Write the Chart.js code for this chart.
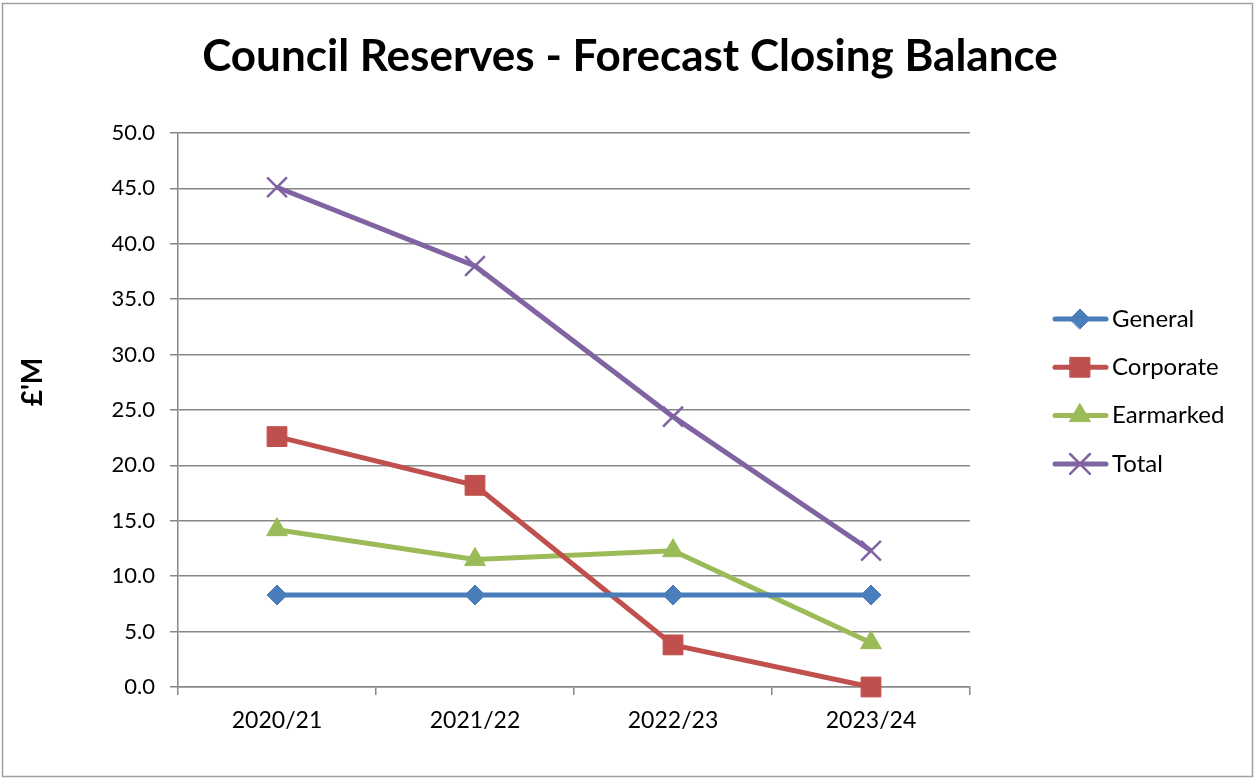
<!DOCTYPE html>
<html>
<head>
<meta charset="utf-8">
<script src="https://cdn.jsdelivr.net/npm/chart.js@4"></script>
<style>
  html, body { margin: 0; padding: 0; background: #fff; }
  #wrap { width: 1256px; height: 779px; }
</style>
</head>
<body>
<div id="wrap"><canvas id="myChart" width="1256" height="779"></canvas></div>
<script>
// chart data
const years = ['2020/21', '2021/22', '2022/23', '2023/24'];
const general = [8.3, 8.3, 8.3, 8.3];
const corporate = [22.6, 18.2, 3.8, 0.0];
const earmarked = [14.2, 11.5, 12.3, 4.0];
const total = [45.1, 38.0, 24.4, 12.3];
const seriesNames = ['General', 'Corporate', 'Earmarked', 'Total'];
const chartTitle = 'Council Reserves - Forecast Closing Balance';
const yTitle = "£'M";

const FONT = 'Lato, "Open Sans", sans-serif';
const GRID = '#878787';

// border round the whole picture, title, y axis title, legend with line + marker
const extras = {
    id: 'extras',
    beforeDraw(chart) {
        const c = chart.ctx;
        c.save();
        c.fillStyle = '#fff';
        c.fillRect(0, 0, chart.width, chart.height);
        c.strokeStyle = '#a0a0a0';
        c.lineWidth = 1.5;
        c.strokeRect(2.5, 3.5, 1250, 773);
        c.restore();
    },
    afterDraw(chart) {
        const c = chart.ctx;
        c.save();
        c.fillStyle = '#000';
        c.font = 'bold 44px ' + FONT;
        c.textAlign = 'center';
        c.textBaseline = 'middle';
        c.fillText(chartTitle, 630, 57);
        c.restore();

        // y axis title
        c.save();
        c.translate(42, 382);
        c.rotate(-Math.PI / 2);
        c.font = 'bold 28px ' + FONT;
        c.fillStyle = '#000';
        c.textAlign = 'center';
        c.textBaseline = 'alphabetic';
        c.fillText(yTitle, 0, 0);
        c.restore();

        // legend
        chart.data.datasets.forEach(function(ds, i) {
            const y = 319 + i * 48.3;
            c.save();
            c.strokeStyle = ds.borderColor;
            c.lineWidth = 5;
            c.lineCap = 'round';
            c.beginPath();
            c.moveTo(1055, y);
            c.lineTo(1106, y);
            c.stroke();
            c.fillStyle = ds.pointBackgroundColor;
            c.strokeStyle = ds.pointBorderColor;
            c.lineWidth = ds.pointBorderWidth;
            Chart.helpers.drawPoint(c, {
                pointStyle: ds.pointStyle,
                radius: ds.pointRadius,
                borderWidth: ds.pointBorderWidth
            }, 1080, y);
            c.fillStyle = '#000';
            c.font = '24px ' + FONT;
            c.textBaseline = 'middle';
            c.fillText(ds.label, 1112, y);
            c.restore();
        });
    }
};

function series(label, data, color, style, radius, pbw) {
    return {
        label: label,
        data: data,
        borderColor: color,
        backgroundColor: color,
        borderWidth: 5,
        pointStyle: style,
        pointRadius: radius,
        pointHoverRadius: radius,
        pointBackgroundColor: color,
        pointBorderColor: color,
        pointBorderWidth: pbw,
        tension: 0,
        clip: false
    };
}

const ctx = document.getElementById('myChart').getContext('2d');
const myChart = new Chart(ctx, {
    type: 'line',
    data: {
        labels: years,
        datasets: [
            series(seriesNames[0], general, '#4A7EBB', 'rectRot', 10, 1),
            series(seriesNames[1], corporate, '#C0504D', 'rect', 14, 1),
            series(seriesNames[2], earmarked, '#9BBB59', 'triangle', 12, 1),
            series(seriesNames[3], total, '#8064A2', 'crossRot', 14, 2.5)
        ]
    },
    plugins: [extras],
    options: {
        responsive: false,
        animation: false,
        layout: {
            padding: { left: 0, right: 286, top: 133, bottom: 0 }
        },
        plugins: {
            legend: { display: false },
            tooltip: { enabled: false },
            title: { display: false }
        },
        scales: {
            x: {
                offset: true,
                grid: {
                    offset: true,
                    drawOnChartArea: false,
                    color: GRID,
                    tickLength: 8,
                    lineWidth: 1.5
                },
                border: { color: GRID, width: 1.5 },
                ticks: {
                    color: '#000',
                    padding: 12,
                    font: { family: FONT, size: 23 }
                },
                afterFit: function(scale) { scale.height = 92; }
            },
            y: {
                min: 0,
                max: 50,
                ticks: {
                    stepSize: 5,
                    color: '#000',
                    padding: 15,
                    font: { family: FONT, size: 22 },
                    callback: function(v) { return v.toFixed(1); }
                },
                grid: {
                    color: GRID,
                    tickLength: 8,
                    lineWidth: 1.5
                },
                border: { color: GRID, width: 1.5 },
                afterFit: function(scale) { scale.width = 178; }
            }
        }
    }
});
</script>
</body>
</html>
